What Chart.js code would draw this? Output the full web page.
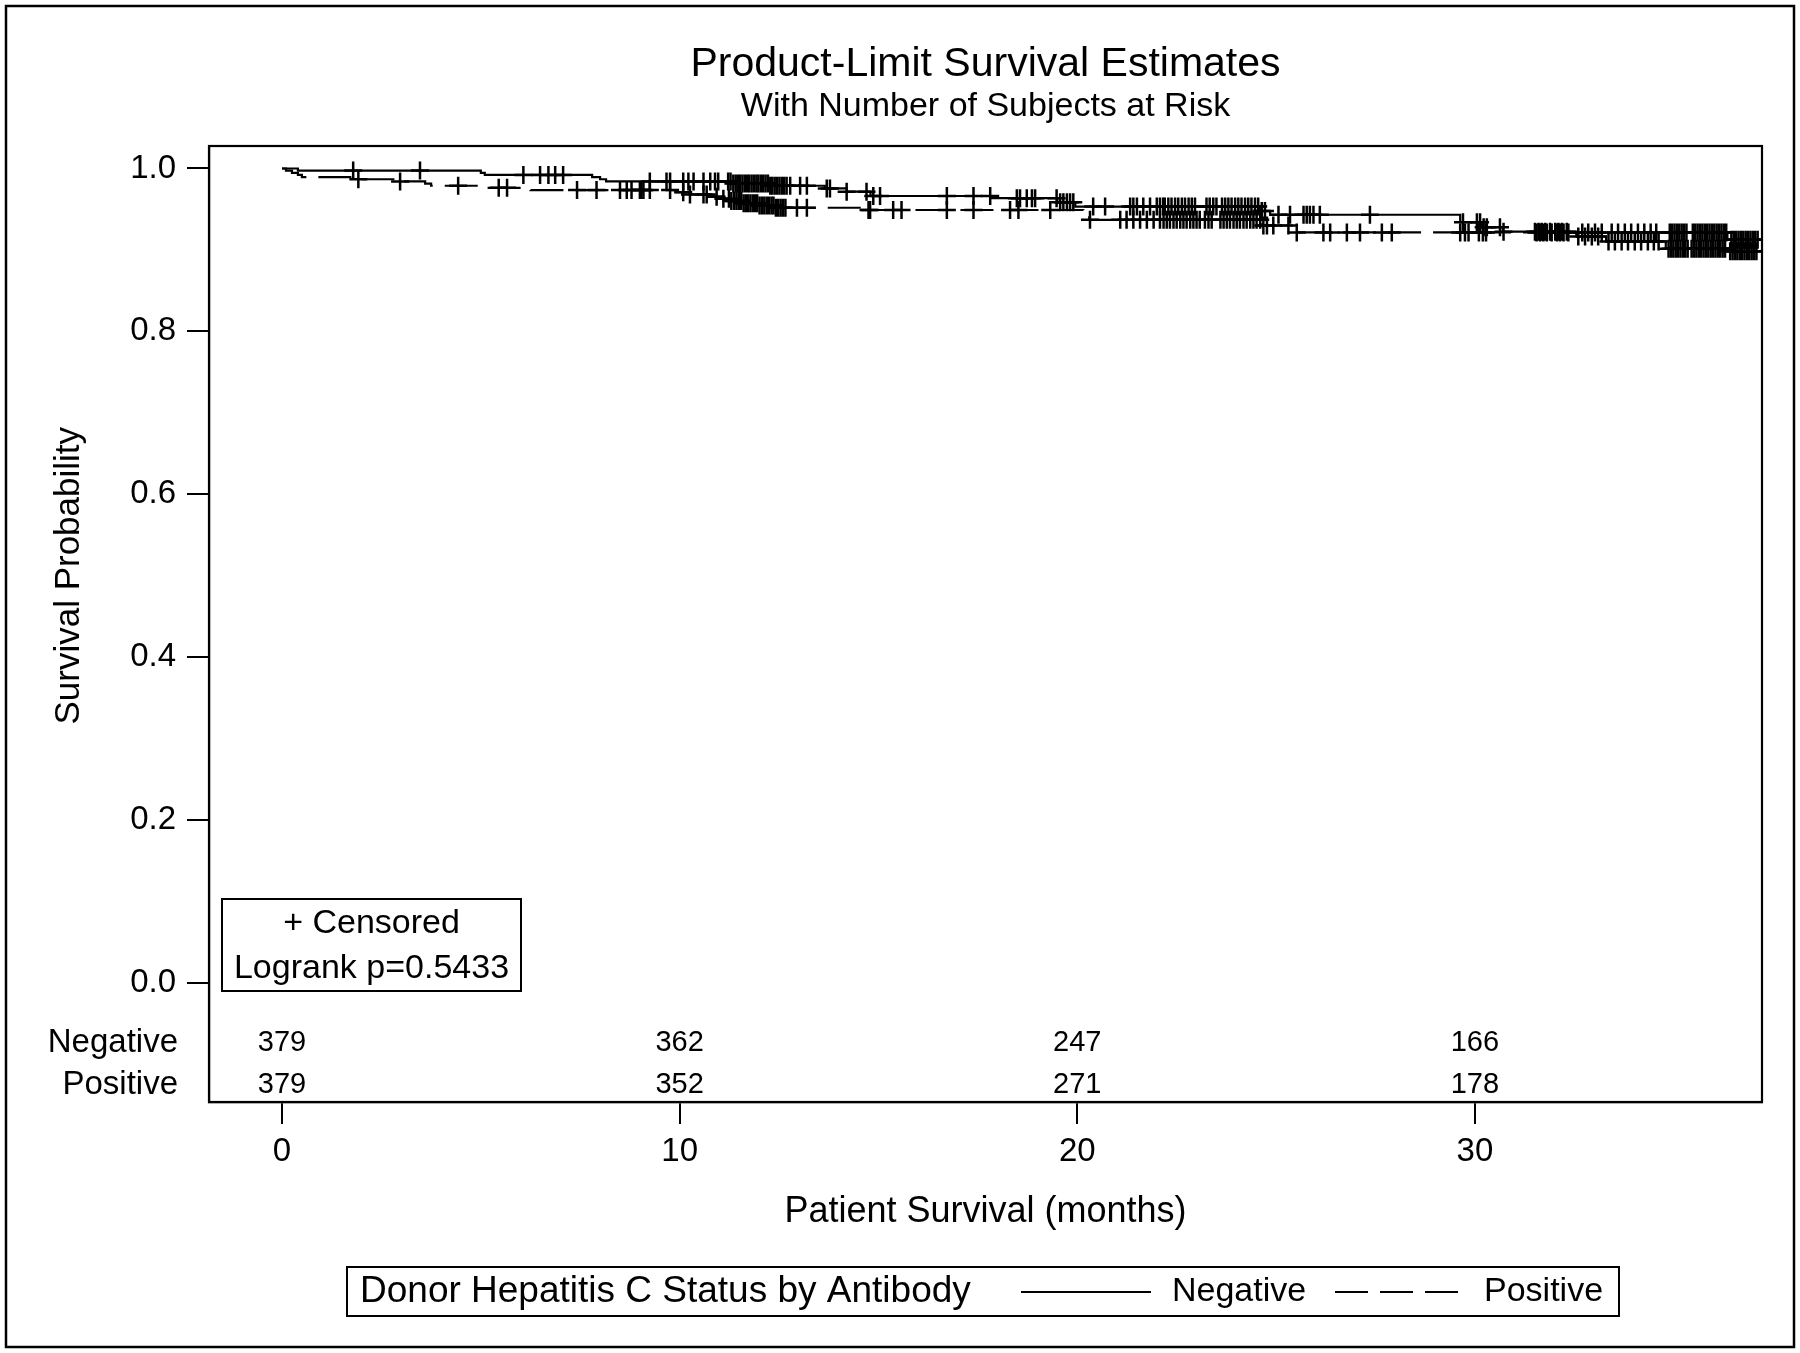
<!DOCTYPE html>
<html>
<head>
<meta charset="utf-8">
<title>Product-Limit Survival Estimates</title>
<script src="https://cdn.jsdelivr.net/npm/chart.js@4.4.1/dist/chart.umd.min.js"></script>
<style>
  html, body { margin: 0; padding: 0; background: #fff; }
  canvas { display: block; }
</style>
</head>
<body>
<canvas id="km" width="1800" height="1353" style="width:1800px;height:1353px"></canvas>
<script>
// Kaplan-Meier steps (time in months, survival after the event)
const negEventTimes = [0, 0.4, 5.0, 5.1, 7.8, 8.0, 8.15, 11.3, 12.25, 13.65, 14.2, 14.8, 17.85, 19.5, 19.95, 24.6, 24.85, 29.63, 30.15, 30.7, 32.55, 33.3, 34.8, 36.4];
const negEventSurv  = [1.0, 0.9974, 0.9947, 0.9921, 0.9894, 0.9868, 0.9841, 0.9815, 0.9788, 0.9755, 0.9715, 0.9662, 0.9635, 0.9585, 0.9532, 0.9478, 0.9432, 0.9340, 0.9280, 0.9224, 0.9165, 0.9105, 0.9015, 0.8985];

const posEventTimes = [0, 0.1, 0.25, 0.4, 0.5, 1.8, 2.8, 3.6, 3.75, 5.1, 6.25, 9.9, 10.25, 10.7, 11.1, 11.25, 11.6, 12.0, 12.4, 14.7, 20.15, 20.3, 24.65, 25.5, 36.35];
const posEventSurv  = [1.0, 0.9974, 0.9947, 0.9921, 0.9894, 0.9868, 0.9841, 0.9815, 0.9788, 0.9762, 0.9735, 0.9708, 0.9681, 0.9654, 0.9627, 0.9600, 0.9573, 0.9545, 0.9518, 0.9490, 0.9455, 0.9370, 0.9300, 0.9215, 0.9125];

// censoring times
const negCensor = [
  1.79, 3.47, 6.07, 6.49, 6.7, 6.87, 7.07,
  9.25, 9.67, 9.76, 10.09, 10.22, 10.35, 10.6, 10.77, 10.89, 10.97,
  11.22, 11.28, 11.35, 11.41, 11.47, 11.52, 11.58, 11.64, 11.7, 11.75, 11.81, 11.87, 11.93, 11.98,
  12.04, 12.1, 12.16, 12.22, 12.28, 12.33, 12.39, 12.45, 12.51, 12.57, 12.63, 12.69,
  12.78, 13.03, 13.2, 13.7, 13.78, 14.2, 14.7, 14.87, 15.04, 16.72, 17.39, 17.81,
  18.48, 18.56, 18.73, 18.86, 18.94, 19.48, 19.57, 19.65, 19.74, 19.82, 19.9, 20.4, 20.7,
  21.33, 21.41, 21.5, 21.66, 21.83, 22.0, 22.08, 22.16, 22.2,
  22.29, 22.37, 22.46, 22.54, 22.63, 22.71, 22.8, 22.88, 22.96, 23.25, 23.33, 23.42, 23.5,
  23.64, 23.72, 23.8, 23.88, 23.97,
  24.05, 24.13, 24.22, 24.3, 24.38, 24.47, 24.55, 24.64, 24.72,
  25.06, 25.35, 25.69, 25.77, 25.85, 25.94, 26.1, 27.36, 29.7, 30.05, 30.13, 30.22, 30.3, 30.63, 30.72,
  31.51, 31.6, 31.68, 31.77, 31.89, 32.02, 32.1, 32.19, 32.31,
  32.6, 32.77, 32.94, 33.1, 33.36, 33.52, 33.69, 33.85, 34.02, 34.18, 34.35, 34.5, 34.62,
  34.87, 34.93, 34.99, 35.05, 35.11, 35.17, 35.23, 35.29, 35.35, 35.45, 35.51, 35.57, 35.63,
  35.69, 35.75, 35.81, 35.87, 35.93, 35.99, 36.05, 36.11, 36.17, 36.23, 36.29,
  36.42, 36.48, 36.54, 36.6, 36.66, 36.72, 36.78, 36.84, 36.9, 36.96, 37.02, 37.08
];
const posCensor = [
  1.92, 2.97, 4.43, 5.45, 5.66, 7.42, 7.91, 8.5, 8.67, 8.79, 9.0, 9.04, 9.09, 9.25, 9.76,
  10.09, 10.26, 10.6, 10.68, 10.93, 11.1,
  11.24, 11.3, 11.37, 11.43, 11.49, 11.55, 11.61, 11.67, 11.72, 11.78, 11.84, 11.9, 11.95,
  12.01, 12.07, 12.13, 12.19, 12.25, 12.31, 12.36, 12.42, 12.48, 12.54, 12.6, 12.66,
  12.95, 13.2, 14.75, 14.79, 15.37, 15.58, 16.72, 17.39, 18.31, 18.52, 19.32, 20.32,
  21.08, 21.24, 21.41, 21.58, 21.75, 21.92, 22.08, 22.17, 22.25, 22.33, 22.42, 22.5, 22.59,
  22.67, 22.75, 22.84, 22.92, 23.0, 23.08, 23.21, 23.3, 23.38, 23.6, 23.68, 23.76, 23.84, 23.93,
  24.01, 24.09, 24.18, 24.26, 24.35, 24.43, 24.51, 24.6,
  24.68, 24.77, 24.93, 25.31, 25.52, 26.19, 26.36, 26.78, 27.11, 27.66, 27.91, 29.63, 29.75, 29.84,
  30.1, 30.2, 30.28, 31.55, 31.64, 31.72, 31.81, 31.93, 32.06, 32.14, 32.23, 32.35,
  32.7, 32.85, 33.02, 33.19, 33.44, 33.6, 33.77, 33.93, 34.1, 34.26, 34.42, 34.56,
  34.9, 34.96, 35.02, 35.08, 35.14, 35.2, 35.26, 35.32, 35.48, 35.54, 35.6, 35.66, 35.72,
  35.78, 35.84, 35.9, 35.96, 36.02, 36.08, 36.14, 36.2, 36.26, 36.32,
  36.45, 36.51, 36.57, 36.63, 36.69, 36.75, 36.81, 36.87, 36.93, 36.99, 37.05, 37.11
];

// number at risk table
const riskTimes = [0, 10, 20, 30];
const riskNegative = [379, 362, 247, 166];
const riskPositive = [379, 352, 271, 178];

const xTicks = [0, 10, 20, 30];
const yTicks = [0, 0.2, 0.4, 0.6, 0.8, 1.0];

const FONT = '"Liberation Sans", Arial, Helvetica, sans-serif';

function survAt(times, surv, t) {
  let s = surv[0];
  for (let i = 0; i < times.length; i++) {
    if (times[i] <= t) s = surv[i];
  }
  return s;
}

// step path: hold previous value until the next event, then drop
function stepPoints(times, surv, endTime) {
  const pts = [{ x: times[0], y: surv[0] }];
  for (let i = 1; i < times.length; i++) {
    pts.push({ x: times[i], y: surv[i - 1] });
    pts.push({ x: times[i], y: surv[i] });
  }
  pts.push({ x: endTime, y: surv[surv.length - 1] });
  return pts;
}

function censorPoints(times, surv, censor) {
  return censor.map(t => ({ x: t, y: survAt(times, surv, t) }));
}

const negEnd = Math.max(...negCensor);
const posEnd = Math.max(...posCensor);

const decorPlugin = {
  id: 'decor',
  beforeDraw(chart) {
    const ctx = chart.ctx;
    ctx.save();
    ctx.fillStyle = '#fff';
    ctx.fillRect(0, 0, chart.width, chart.height);
    ctx.restore();
  },
  afterDraw(chart) {
    const ctx = chart.ctx;
    const area = chart.chartArea;
    const xs = chart.scales.x;
    const ys = chart.scales.y;
    const cx = (area.left + area.right) / 2;
    ctx.save();
    ctx.strokeStyle = '#000';
    ctx.fillStyle = '#000';
    ctx.textBaseline = 'middle';

    // titles, centred over the plot area
    ctx.textAlign = 'center';
    ctx.font = '41px ' + FONT;
    ctx.fillText('Product-Limit Survival Estimates', cx, 65);
    ctx.font = '34px ' + FONT;
    ctx.fillText('With Number of Subjects at Risk', cx, 107);

    // outer border and plot frame
    ctx.lineWidth = 2.5;
    ctx.strokeRect(6, 6, 1788, 1341);
    ctx.lineWidth = 2.2;
    ctx.strokeRect(area.left, area.top, area.right - area.left, area.bottom - area.top);

    // y axis title, centred on the 0..1 range
    ctx.save();
    ctx.translate(69, ys.getPixelForValue(0.5));
    ctx.rotate(-Math.PI / 2);
    ctx.font = '35px ' + FONT;
    ctx.fillText('Survival Probability', 0, 0);
    ctx.restore();

    // subjects at risk
    const rowNeg = area.bottom - 59;
    const rowPos = area.bottom - 17;
    ctx.font = '33px ' + FONT;
    ctx.textAlign = 'right';
    ctx.fillText('Negative', 178, rowNeg);
    ctx.fillText('Positive', 178, rowPos);
    ctx.font = '29px ' + FONT;
    ctx.textAlign = 'center';
    riskTimes.forEach((t, i) => {
      const px = xs.getPixelForValue(t);
      ctx.fillText(String(riskNegative[i]), px, rowNeg);
      ctx.fillText(String(riskPositive[i]), px, rowPos);
    });

    // censored / logrank inset
    const bx = area.left + 13, by = ys.getPixelForValue(0) - 84, bw = 299, bh = 92;
    ctx.lineWidth = 2;
    ctx.strokeRect(bx, by, bw, bh);
    ctx.font = '34px ' + FONT;
    ctx.fillText('+ Censored', bx + bw / 2, by + 25);
    ctx.fillText('Logrank p=0.5433', bx + bw / 2, by + 70);

    // legend
    const ly = 1292;
    ctx.lineWidth = 2;
    ctx.strokeRect(347, 1267, 1272, 49);
    ctx.textAlign = 'left';
    ctx.font = '37px ' + FONT;
    ctx.fillText('Donor Hepatitis C Status by Antibody', 360, ly);
    ctx.font = '34px ' + FONT;
    ctx.lineWidth = 2.2;
    ctx.beginPath();
    ctx.moveTo(1021, ly);
    ctx.lineTo(1151, ly);
    ctx.stroke();
    ctx.fillText(chart.data.datasets[0].label, 1172, ly);
    ctx.setLineDash([33, 12]);
    ctx.beginPath();
    ctx.moveTo(1335, ly);
    ctx.lineTo(1458, ly);
    ctx.stroke();
    ctx.setLineDash([]);
    ctx.fillText(chart.data.datasets[1].label, 1484, ly);

    ctx.restore();
  }
};

Chart.defaults.font.family = FONT;
Chart.defaults.color = '#000';

new Chart(document.getElementById('km'), {
  type: 'line',
  data: {
    datasets: [
      {
        label: 'Negative',
        data: stepPoints(negEventTimes, negEventSurv, negEnd),
        borderColor: '#000',
        borderWidth: 2.2,
        pointRadius: 0,
        fill: false,
        tension: 0
      },
      {
        label: 'Positive',
        data: stepPoints(posEventTimes, posEventSurv, posEnd),
        borderColor: '#000',
        borderWidth: 2.2,
        borderDash: [33, 12],
        pointRadius: 0,
        fill: false,
        tension: 0
      },
      {
        label: 'Negative censored',
        type: 'scatter',
        data: censorPoints(negEventTimes, negEventSurv, negCensor),
        showLine: false,
        pointStyle: 'cross',
        pointRadius: 9,
        pointBorderWidth: 2.5,
        borderColor: '#000',
        backgroundColor: '#000'
      },
      {
        label: 'Positive censored',
        type: 'scatter',
        data: censorPoints(posEventTimes, posEventSurv, posCensor),
        showLine: false,
        pointStyle: 'cross',
        pointRadius: 9,
        pointBorderWidth: 2.5,
        borderColor: '#000',
        backgroundColor: '#000'
      }
    ]
  },
  options: {
    responsive: false,
    animation: false,
    devicePixelRatio: 1,
    events: [],
    layout: { padding: { top: 146, left: 20, right: 38, bottom: 111 } },
    plugins: {
      legend: { display: false },
      tooltip: { enabled: false },
      title: { display: false },
      subtitle: { display: false }
    },
    scales: {
      x: {
        type: 'linear',
        position: 'bottom',
        min: -1.836,
        max: 37.22,
        afterBuildTicks: s => { s.ticks = xTicks.map(v => ({ value: v })); },
        afterFit: s => { s.height = 140; },
        ticks: { font: { size: 33 }, color: '#000', padding: 8, maxRotation: 0, callback: v => String(v) },
        grid: { display: true, drawOnChartArea: false, drawTicks: true, tickLength: 22, color: '#000', lineWidth: 2 },
        border: { display: true, color: '#000', width: 2.2 },
        title: {
          display: true,
          text: 'Patient Survival (months)',
          font: { size: 36 },
          color: '#000',
          padding: { top: 0, bottom: 8 }
        }
      },
      y: {
        type: 'linear',
        min: -0.1461,
        max: 1.0276,
        afterBuildTicks: s => { s.ticks = yTicks.map(v => ({ value: v })); },
        afterFit: s => { s.width = 189; },
        ticks: { font: { size: 33 }, color: '#000', padding: 11, callback: v => v.toFixed(1) },
        grid: { display: true, drawOnChartArea: false, drawTicks: true, tickLength: 22, color: '#000', lineWidth: 2 },
        border: { display: true, color: '#000', width: 2.2 }
      }
    }
  },
  plugins: [decorPlugin]
});
</script>
</body>
</html>
